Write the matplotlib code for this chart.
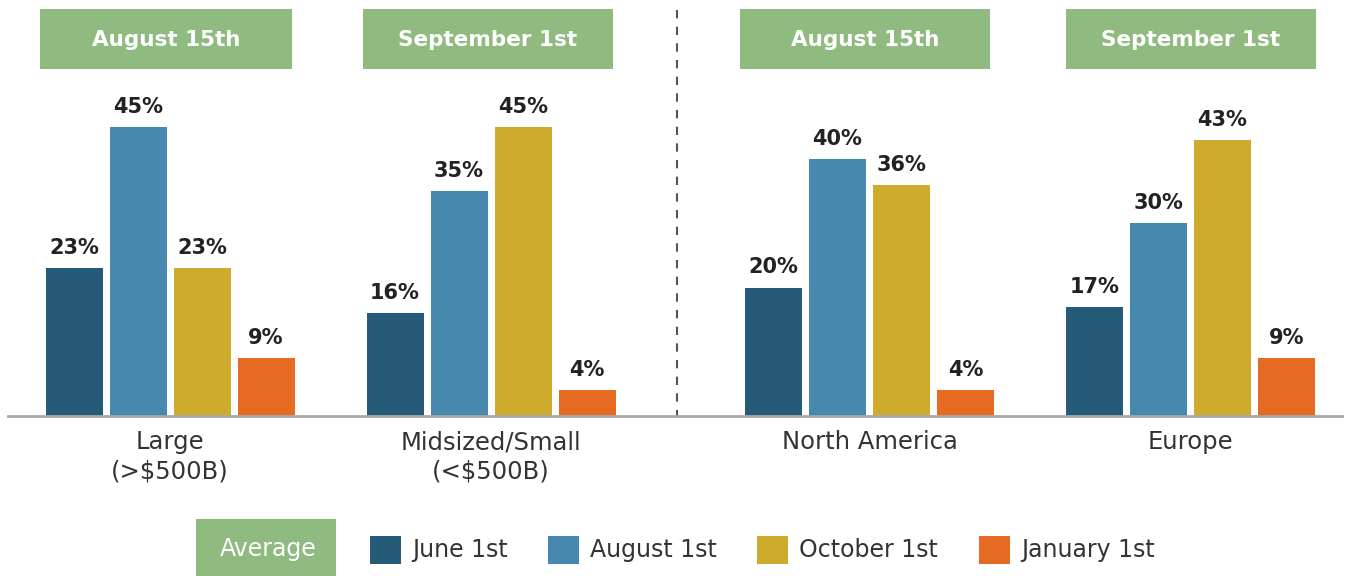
import numpy as np
import matplotlib.pyplot as plt
from matplotlib.patches import Rectangle

plt.rcParams['font.family'] = ['DejaVu Sans']

# data
groups = ["Large\n(>$500B)", "Midsized/Small\n(<$500B)", "North America", "Europe"]
headers = ["August 15th", "September 1st", "August 15th", "September 1st"]
series = ["June 1st", "August 1st", "October 1st", "January 1st"]
june = [23, 16, 20, 17]
august = [45, 35, 40, 30]
october = [23, 45, 36, 43]
january = [9, 4, 4, 9]

colors = ["#255a78", "#4688ae", "#cfab2d", "#e76a22"]
green = "#8fba80"
W, H = 1357, 576
px_per_pct = 6.42
base_y = 416

fig = plt.figure(figsize=(W / 100, H / 100), dpi=100)

# bar axes: x in pixels, y in percent, baseline at y=416px
ax = fig.add_axes([0, 0, 1, 1])
ax.set_xlim(0, W)
ax.set_ylim(-(H - base_y) / px_per_pct, base_y / px_per_pct)
ax.axis('off')

centers = [170, 491, 869.5, 1190.5]
offsets = [-96, -32, 32, 96]
values = [june, august, october, january]
for s, vals in enumerate(values):
    xs = [c + offsets[s] for c in centers]
    ax.bar(xs, vals, width=57, color=colors[s], zorder=2)
    for x, v in zip(xs, vals):
        ax.text(x, v + 1.6, f"{v}%", ha='center', va='bottom', fontsize=15,
                color='#222222', fontweight='bold')

# overlay axes in pixel coordinates
ov = fig.add_axes([0, 0, 1, 1], facecolor='none')
ov.set_xlim(0, W)
ov.set_ylim(H, 0)
ov.axis('off')

ov.plot([8, 1342], [base_y, base_y], color='#a8a8a8', lw=2, zorder=3)
ov.plot([677, 677], [10, base_y], color='#555555', lw=1.5, ls=(0, (4, 4)))

box_x = [(40, 292), (363, 613), (740, 990), (1066, 1316)]
for (x0, x1), h in zip(box_x, headers):
    ov.add_patch(Rectangle((x0, 9), x1 - x0, 60, color=green, lw=0))
    ov.text((x0 + x1) / 2, 40, h, ha='center', va='center', color='white',
            fontsize=15.5, fontweight='bold')

for c, g in zip(centers, groups):
    for i, line in enumerate(g.split("\n")):
        ov.text(c, 442 + 29 * i, line, ha='center', va='center', fontsize=17.5,
                color='#333333')

# legend
ov.add_patch(Rectangle((196, 519), 140, 57, color=green, lw=0))
ov.text(268, 549, "Average", ha='center', va='center', color='white', fontsize=17)
leg_sq = [370, 548, 757, 979]
for x, name, col in zip(leg_sq, series, colors):
    ov.add_patch(Rectangle((x, 536), 31, 28, color=col, lw=0))
    ov.text(x + 42, 550, name, ha='left', va='center', fontsize=17, color='#333333')

fig.savefig("out.png", dpi=100)
